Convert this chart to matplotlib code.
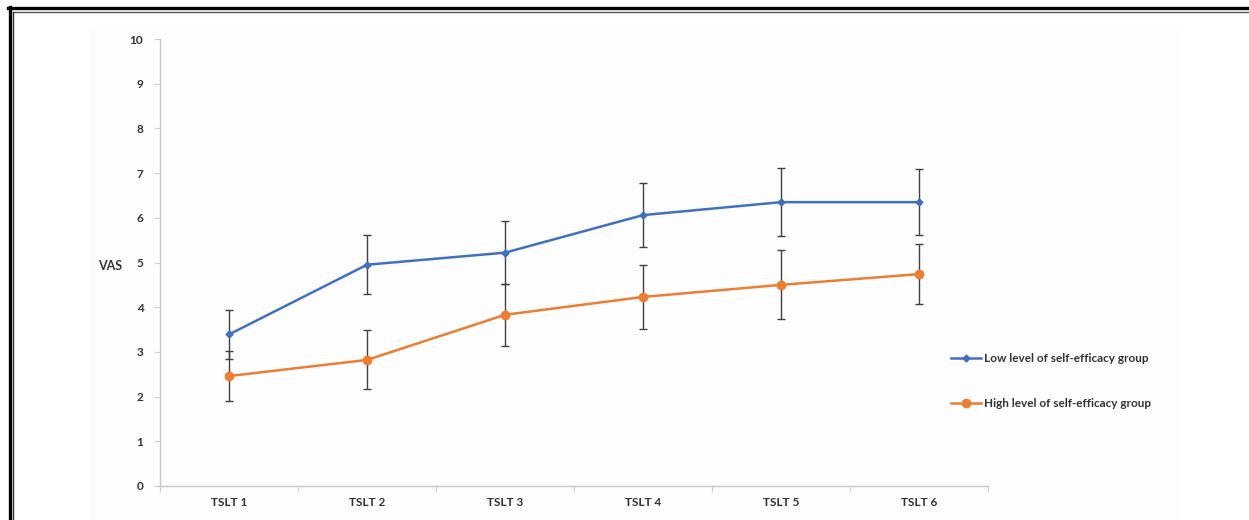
import matplotlib
matplotlib.use('Agg')
import matplotlib.pyplot as plt
from matplotlib.lines import Line2D
from matplotlib.patches import Rectangle

# Data
sessions = ['TSLT 1', 'TSLT 2', 'TSLT 3', 'TSLT 4', 'TSLT 5', 'TSLT 6']
low_mean = [3.39, 4.95, 5.22, 6.06, 6.35, 6.35]
low_err = [0.55, 0.66, 0.70, 0.72, 0.76, 0.74]
high_mean = [2.46, 2.82, 3.83, 4.23, 4.50, 4.74]
high_err = [0.55, 0.66, 0.70, 0.72, 0.77, 0.67]
y_ticks = [0, 1, 2, 3, 4, 5, 6, 7, 8, 9, 10]
labels = ['Low level of self-efficacy group', 'High level of self-efficacy group']

W, H = 1249, 520
BLUE = '#4170C0'
ORANGE = '#ED7D31'
GREY = '#404040'
TXT = '#333333'

plt.rcParams['font.family'] = ['Lato', 'DejaVu Sans']

fig = plt.figure(figsize=(W / 100, H / 100), dpi=100)


def fx(px):
    return px / W


def fy(py):
    return 1 - py / H


# faint chart-area background
fig.patches.append(Rectangle((fx(90), 0), fx(1180) - fx(90), fy(27),
                             transform=fig.transFigure, facecolor='#fdfdfd',
                             edgecolor='none', zorder=-5))

# picture frame (top and left edges only)
fig.add_artist(Line2D([fx(8), 1], [fy(8), fy(8)], color='black', lw=2.4))
fig.add_artist(Line2D([fx(13), 1], [fy(11.5), fy(11.5)], color='#555555', lw=1))
fig.add_artist(Line2D([fx(9.5), fx(9.5)], [0, fy(7)], color='black', lw=2.4))
fig.add_artist(Line2D([fx(13), fx(13)], [0, fy(11.5)], color='#333333', lw=1))

ax = fig.add_axes([fx(160), fy(486), fx(988) - fx(160), (486 - 39) / H])
ax.set_zorder(2)
ax.patch.set_alpha(0)

x = [i + 0.5 for i in range(len(sessions))]

ax.errorbar(x, low_mean, yerr=low_err, color=BLUE, lw=1.8, marker='D',
            markersize=3.5, ecolor=GREY, elinewidth=1, capsize=3, capthick=1,
            zorder=3)
ax.errorbar(x, high_mean, yerr=high_err, color=ORANGE, lw=1.8, marker='o',
            markersize=6, ecolor=GREY, elinewidth=1, capsize=3, capthick=1,
            zorder=3)

ax.set_xlim(0, len(sessions))
ax.set_ylim(0, 10)
ax.set_yticks(y_ticks)
ax.set_yticklabels([str(v) for v in y_ticks], fontsize=8.5, fontweight='bold',
                   color=TXT)
ax.set_xticks(range(len(sessions) + 1))
ax.set_xticklabels([''] * (len(sessions) + 1))
ax.set_xticks(x, minor=True)
ax.set_xticklabels(sessions, minor=True, fontsize=8.5, fontweight='bold',
                   color=TXT)
ax.tick_params(axis='x', which='minor', length=0, pad=8)
ax.tick_params(axis='x', which='major', length=4, color='#d0d0d0')
ax.tick_params(axis='y', length=4, color='#d0d0d0', pad=8)

for side in ['top', 'right']:
    ax.spines[side].set_visible(False)
for side in ['left', 'bottom']:
    ax.spines[side].set_color('#c8c8c8')
    ax.spines[side].set_linewidth(1)

fig.text(fx(110), fy(266), 'VAS', fontsize=9, fontweight='bold',
         color=TXT, ha='center', va='center')

handles = [
    Line2D([], [], color=BLUE, lw=1.8, marker='D', markersize=3.5),
    Line2D([], [], color=ORANGE, lw=1.8, marker='o', markersize=6),
]
fig.legend(handles, labels, loc='center left', bbox_to_anchor=(fx(940), fy(381)),
           frameon=False, prop={'weight': 'bold', 'size': 8.5},
           handlelength=2.6, handletextpad=0.2, labelspacing=2.9,
           labelcolor=TXT)

fig.savefig('out.png', dpi=100)
